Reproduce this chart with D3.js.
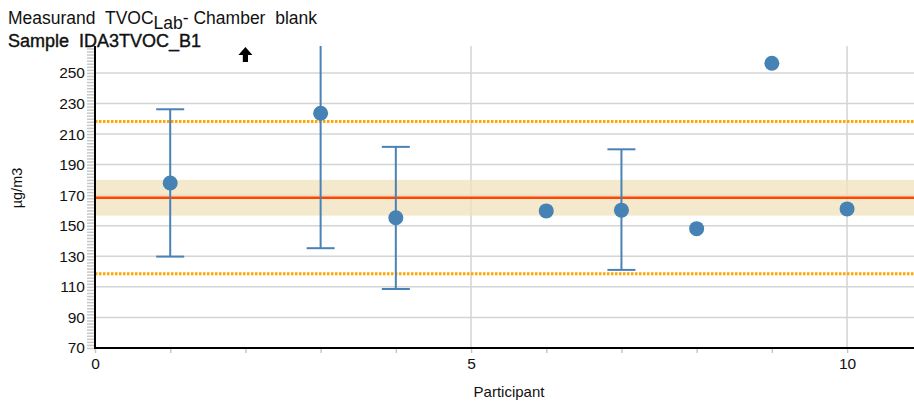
<!DOCTYPE html>
<html>
<head>
<meta charset="utf-8">
<script src="https://cdn.jsdelivr.net/npm/d3@7"></script>
<style>
  html, body { margin: 0; padding: 0; background: #fff; }
  svg text { font-family: "Liberation Sans", Arial, sans-serif; fill: #111; white-space: pre; }
</style>
</head>
<body>
<svg id="chart" width="914" height="405"></svg>
<script>
// Participant results for the chamber blank sample
const participants = [1, 3, 4, 6, 7, 8, 9, 10];
const values       = [178.0, 223.6, 155.2, 159.7, 160.2, 148.1, 256.3, 161.0];
const errLow       = [129.8, 135.3, 108.6, null, 121.1, null, null, null];
const errHigh      = [226.2, 311.9, 201.6, null, 200.0, null, null, null];
// Participant whose result lies above the plotted range
const offScaleHigh = [2];

// Reference values
const assignedValue = 168.3;
const uncertaintyBand = [156.6, 180.0];
const toleranceLimits = [118.6, 218.2];

const yTicks = [70, 90, 110, 130, 150, 170, 190, 210, 230, 250];
const xTicks = [0, 5, 10];

const svg = d3.select("#chart");
const mLeft = 95, mRight = 914, mTop = 46, mBottom = 348;

const x = d3.scaleLinear().domain([0, 10.89]).range([mLeft, mRight]);
const y = d3.scaleLinear().domain([70, 267.6]).range([mBottom, mTop]);

svg.append("defs").append("clipPath").attr("id", "clip")
  .append("rect").attr("x", mLeft).attr("y", mTop).attr("width", mRight - mLeft).attr("height", mBottom - mTop);
const plot = svg.append("g");

// Horizontal grid
plot.append("g").selectAll("line").data(yTicks.filter(d => d > 70)).join("line")
  .attr("x1", mLeft).attr("x2", mRight)
  .attr("y1", d => y(d)).attr("y2", d => y(d))
  .attr("stroke", "#d4d4d4").attr("stroke-width", 1.5);

// Vertical grid at labelled ticks
plot.append("g").selectAll("line").data(xTicks.filter(d => d > 0)).join("line")
  .attr("x1", d => x(d)).attr("x2", d => x(d))
  .attr("y1", mTop).attr("y2", mBottom)
  .attr("stroke", "#d4d4d4").attr("stroke-width", 1.5);

// Uncertainty band of the assigned value
plot.append("rect")
  .attr("x", mLeft).attr("width", mRight - mLeft)
  .attr("y", y(uncertaintyBand[1]))
  .attr("height", y(uncertaintyBand[0]) - y(uncertaintyBand[1]))
  .attr("fill", "#f0e2bb").attr("opacity", 0.75);

// Assigned value
plot.append("line")
  .attr("x1", mLeft).attr("x2", mRight)
  .attr("y1", y(assignedValue)).attr("y2", y(assignedValue))
  .attr("stroke", "#ff4500").attr("stroke-width", 2.5);

// Tolerance limits
plot.append("g").selectAll("line").data(toleranceLimits).join("line")
  .attr("x1", mLeft).attr("x2", mRight)
  .attr("y1", d => y(d)).attr("y2", d => y(d))
  .attr("stroke", "#ffa500").attr("stroke-width", 3)
  .attr("stroke-dasharray", "2.5,1.5");

// Error bars
const bars = participants.map((p, i) => ({ p, lo: errLow[i], hi: errHigh[i] }))
  .filter(d => d.lo !== null);
const eb = plot.append("g").attr("clip-path", "url(#clip)")
  .attr("stroke", "#4a82b6").attr("stroke-width", 2);
eb.selectAll(".stem").data(bars).join("line").attr("class", "stem")
  .attr("x1", d => x(d.p)).attr("x2", d => x(d.p))
  .attr("y1", d => y(d.lo)).attr("y2", d => y(d.hi));
eb.selectAll(".capLo").data(bars).join("line").attr("class", "capLo")
  .attr("x1", d => x(d.p) - 14).attr("x2", d => x(d.p) + 14)
  .attr("y1", d => y(d.lo)).attr("y2", d => y(d.lo));
eb.selectAll(".capHi").data(bars).join("line").attr("class", "capHi")
  .attr("x1", d => x(d.p) - 14).attr("x2", d => x(d.p) + 14)
  .attr("y1", d => y(d.hi)).attr("y2", d => y(d.hi));

// Participant results
plot.append("g").selectAll("circle").data(participants).join("circle")
  .attr("cx", d => x(d)).attr("cy", (d, i) => y(values[i]))
  .attr("r", 7.5).attr("fill", "#4682b4");

// Marker for results above the scale
plot.append("g").selectAll("path").data(offScaleHigh).join("path")
  .attr("transform", d => `translate(${x(d)},${mTop + 1})`)
  .attr("d", "M0,0 L7,8 L2.6,8 L2.6,15 L-2.6,15 L-2.6,8 L-7,8 Z")
  .attr("fill", "#000");

// Y axis with minor ticks
const yAxis = svg.append("g").attr("transform", `translate(${mLeft},0)`);
yAxis.call(d3.axisLeft(y).tickValues(d3.range(70, 268, 2)).tickSize(8).tickFormat(""))
  .call(g => g.select(".domain").remove())
  .call(g => g.selectAll(".tick line").attr("stroke", "#c8c8c8").attr("stroke-width", 1.5));
yAxis.append("g")
  .call(d3.axisLeft(y).tickValues(yTicks).tickSize(0).tickPadding(10))
  .call(g => g.select(".domain").remove())
  .call(g => g.selectAll("text").attr("font-size", 15.5).attr("fill", "#111")
    .attr("font-family", "Liberation Sans, Arial, sans-serif"));
yAxis.append("line").attr("x1", 0).attr("x2", 0).attr("y1", mTop).attr("y2", mBottom + 1)
  .attr("stroke", "#000").attr("stroke-width", 2);

// X axis with minor ticks
const xAxis = svg.append("g").attr("transform", `translate(0,${mBottom})`);
xAxis.call(d3.axisBottom(x).tickValues(d3.range(0, 11, 1)).tickSize(5).tickFormat(""))
  .call(g => g.select(".domain").remove())
  .call(g => g.selectAll(".tick line").attr("stroke", "#c8c8c8").attr("stroke-width", 1.5));
xAxis.append("g")
  .call(d3.axisBottom(x).tickValues(xTicks).tickSize(0).tickPadding(10).tickFormat(d3.format("d")))
  .call(g => g.select(".domain").remove())
  .call(g => g.selectAll("text").attr("font-size", 15.5).attr("fill", "#111")
    .attr("font-family", "Liberation Sans, Arial, sans-serif"));
xAxis.append("line").attr("x1", mLeft - 1).attr("x2", mRight).attr("y1", 0).attr("y2", 0)
  .attr("stroke", "#000").attr("stroke-width", 2);

// Axis titles
svg.append("text").attr("x", 509).attr("y", 397)
  .attr("text-anchor", "middle").attr("font-size", 15).text("Participant");
svg.append("text").attr("transform", "translate(22,188) rotate(-90)")
  .attr("text-anchor", "middle").attr("font-size", 14.5).text("µg/m3");

// Heading
const t1 = svg.append("text").attr("x", 8).attr("y", 24).attr("font-size", 17.5);
t1.append("tspan").text("Measurand  TVOC");
t1.append("tspan").attr("dy", 5).text("Lab");
t1.append("tspan").attr("dy", -5).text("- Chamber  blank");
svg.append("text").attr("x", 8).attr("y", 47).attr("font-size", 18)
  .attr("stroke", "#111").attr("stroke-width", 0.4)
  .text("Sample  IDA3TVOC_B1");
</script>
</body>
</html>
